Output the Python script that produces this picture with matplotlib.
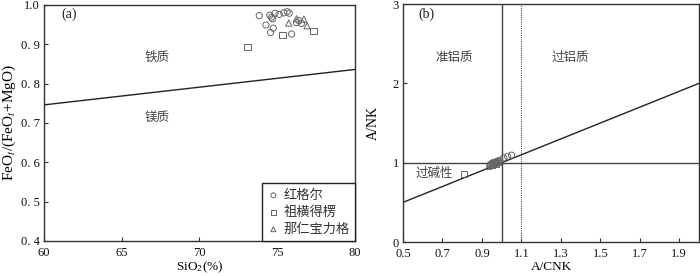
import matplotlib
matplotlib.use("Agg")
import matplotlib.pyplot as plt

plt.rcParams['font.family'] = ['Liberation Serif', 'Noto Sans CJK SC', 'DejaVu Sans']
plt.rcParams['mathtext.fontset'] = 'stix'

# Panel (a) data: SiO2 vs FeOt/(FeOt+MgO)
hge_sio2 = [73.85, 74.53, 74.64, 74.71, 74.86, 75.13, 75.43, 75.65, 75.78, 74.28, 74.75, 74.58, 75.93, 76.25, 76.40, 76.57]
hge_fe = [0.973, 0.974, 0.969, 0.965, 0.979, 0.976, 0.980, 0.983, 0.979, 0.949, 0.941, 0.930, 0.926, 0.955, 0.960, 0.953]
zh_sio2 = [73.10, 75.35, 77.34]
zh_fe = [0.893, 0.923, 0.934]
nr_sio2 = [75.75, 76.25, 76.72, 76.93]
nr_fe = [0.954, 0.965, 0.964, 0.947]
div_a_x = [60, 80]
div_a_y = [0.746, 0.836]

# Panel (b) data: A/CNK vs A/NK
hge_acnk = [0.94, 0.95, 0.96, 0.965, 0.97, 0.975, 0.98, 0.985, 0.99, 0.955, 0.945, 1.01, 1.03, 1.05]
hge_ank = [0.97, 0.99, 0.98, 1.00, 1.01, 0.99, 1.02, 1.01, 1.03, 1.00, 0.98, 1.06, 1.08, 1.095]
zh_acnk = [0.81, 0.95, 0.97]
zh_ank = [0.86, 0.97, 0.99]
nr_acnk = [0.935, 0.96, 0.975, 0.985]
nr_ank = [0.955, 0.98, 1.00, 1.005]
div_b_x = [0.5, 2.0]
div_b_y = [0.5, 2.0]

labels = ['红格尔', '祖横得楞', '那仁宝力格']

fig = plt.figure(figsize=(7, 2.76), dpi=100)
axa = fig.add_axes([0.0629, 0.127, 0.444, 0.855])
axb = fig.add_axes([0.5757, 0.123, 0.4229, 0.8625])

ec = '#666666'
lc = '#222222'
mk = dict(facecolor='none', edgecolor=ec, s=20, linewidths=0.7, zorder=3)

axa.plot(div_a_x, div_a_y, color=lc, lw=1.0)
axa.scatter(hge_sio2, hge_fe, marker='o', label=labels[0], **mk)
axa.scatter(zh_sio2, zh_fe, marker='s', label=labels[1], **mk)
axa.scatter(nr_sio2, nr_fe, marker='^', label=labels[2], **mk)
axa.set_xlim(60, 80)
axa.set_ylim(0.4, 1.0)
axa.set_xticks([60, 65, 70, 75, 80])
axa.set_yticks([0.4, 0.5, 0.6, 0.7, 0.8, 0.9, 1.0])
axa.set_yticklabels(['0. 4', '0. 5', '0. 6', '0. 7', '0. 8', '0. 9', '1.0'])
axa.set_xlabel('SiO$_2$(%)', fontsize=9.5, labelpad=1)
axa.set_ylabel('FeO$_t$/(FeO$_t$+MgO)', fontsize=11, labelpad=2)
axa.text(61.1, 0.977, '(a)', fontsize=10, ha='left', va='center', color='#222222')
axa.text(67.3, 0.867, '铁质', fontsize=9, ha='center', va='center', color='#444444', family=['Noto Sans CJK SC'])
axa.text(67.3, 0.714, '镁质', fontsize=9, ha='center', va='center', color='#444444', family=['Noto Sans CJK SC'])
leg = axa.legend(loc='lower right', borderaxespad=0, fancybox=False, edgecolor='#222222',
                 prop={'family': ['Noto Sans CJK SC'], 'size': 9.5}, handletextpad=0.3,
                 handlelength=0.9, borderpad=0.4, labelspacing=0.3, framealpha=1,
                 markerscale=0.8)
leg.get_frame().set_linewidth(1.0)
for t in leg.get_texts():
    t.set_color('#333333')

axb.plot(div_b_x, div_b_y, color=lc, lw=1.0)
axb.axhline(1.0, color='#444444', lw=1.0)
axb.axvline(1.0, color='#444444', lw=1.0)
axb.axvline(1.1, color='#555555', lw=0.8, ls=(0, (1, 1)))
axb.scatter(hge_acnk, hge_ank, marker='o', **mk)
axb.scatter(zh_acnk, zh_ank, marker='s', **mk)
axb.scatter(nr_acnk, nr_ank, marker='^', **mk)
axb.set_xlim(0.5, 2.0)
axb.set_ylim(0, 3)
axb.set_xticks([0.5, 0.7, 0.9, 1.1, 1.3, 1.5, 1.7, 1.9])
axb.set_yticks([0, 1, 2, 3])
axb.set_xlabel('A/CNK', fontsize=9.5, labelpad=1)
axb.set_ylabel('A/NK', fontsize=10, labelpad=9)
axb.text(0.58, 2.875, '(b)', fontsize=10, ha='left', va='center', color='#222222')
axb.text(0.76, 2.33, '准铝质', fontsize=9, ha='center', va='center', color='#444444', family=['Noto Sans CJK SC'])
axb.text(1.35, 2.33, '过铝质', fontsize=9, ha='center', va='center', color='#444444', family=['Noto Sans CJK SC'])
axb.text(0.66, 0.86, '过碱性', fontsize=9, ha='center', va='center', color='#444444', family=['Noto Sans CJK SC'])

for ax in (axa, axb):
    for s in ax.spines.values():
        s.set_color('#333333')
        s.set_linewidth(1.0)
    ax.tick_params(direction='in', length=3, width=0.8, colors='#333333', labelsize=9,
                   labelcolor='#111111')
    ax.tick_params(axis='x', pad=4)
    ax.tick_params(axis='y', pad=3)

fig.savefig('out.png', dpi=100)
